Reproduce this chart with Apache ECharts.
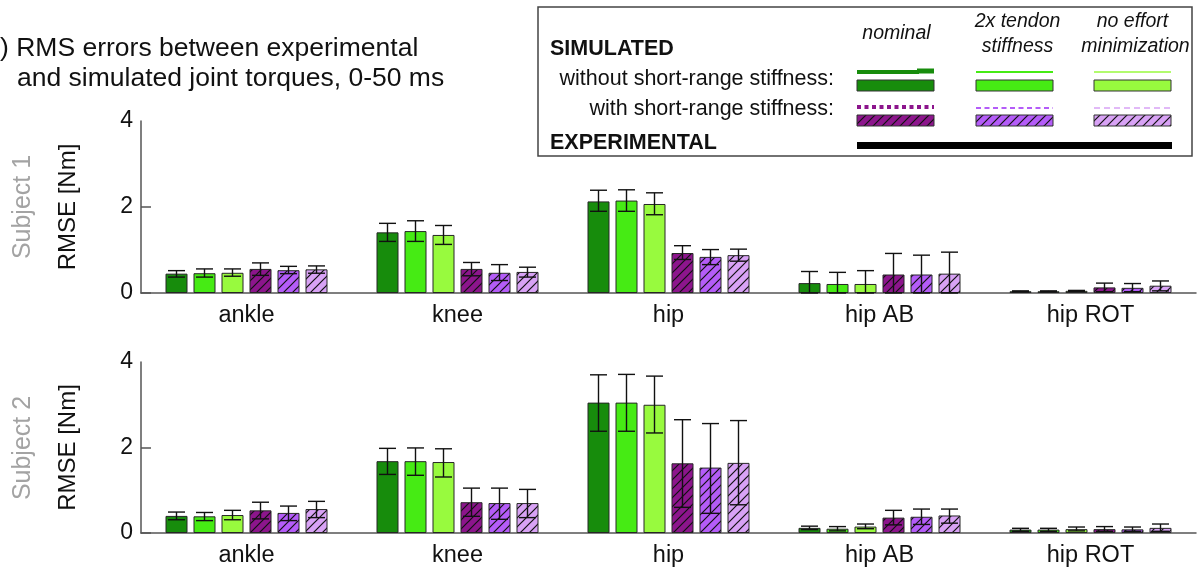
<!DOCTYPE html>
<html><head><meta charset="utf-8">
<script src="https://cdn.jsdelivr.net/npm/echarts@6/dist/echarts.min.js"></script>
<style>html,body{margin:0;padding:0;background:#fff}#c{width:1198px;height:568px}</style>
</head><body><div id="c"></div>
<script>
// ---------------- data ----------------
const categories = ['ankle', 'knee', 'hip', 'hip AB', 'hip ROT'];
const seriesNames = ['nominal', '2x tendon stiffness', 'no effort minimization',
  'nominal (SRS)', '2x tendon stiffness (SRS)', 'no effort minimization (SRS)'];
const subjectNames = ['Subject 1', 'Subject 2'];
const yAxisName = 'RMSE [Nm]';
const yTickValues = [0, 2];

// Subject 1: rows = series, cols = categories
const s1Mean = [
  [0.45, 1.41, 2.13, 0.23, 0.04],
  [0.46, 1.44, 2.15, 0.21, 0.04],
  [0.47, 1.35, 2.07, 0.21, 0.05],
  [0.56, 0.56, 0.93, 0.43, 0.13],
  [0.53, 0.47, 0.84, 0.43, 0.12],
  [0.55, 0.49, 0.88, 0.45, 0.17]
];
const s1High = [
  [0.52, 1.62, 2.39, 0.50, 0.05],
  [0.56, 1.68, 2.40, 0.48, 0.05],
  [0.56, 1.57, 2.33, 0.52, 0.06],
  [0.70, 0.71, 1.10, 0.92, 0.23],
  [0.62, 0.66, 1.01, 0.88, 0.22],
  [0.63, 0.60, 1.02, 0.95, 0.28]
];
const s1Low = [
  [0.37, 1.20, 1.90, 0.00, 0.03],
  [0.37, 1.20, 1.90, 0.00, 0.03],
  [0.39, 1.13, 1.82, 0.00, 0.04],
  [0.41, 0.40, 0.78, 0.00, 0.03],
  [0.45, 0.29, 0.66, 0.00, 0.03],
  [0.46, 0.37, 0.74, 0.00, 0.05]
];
// Subject 2
const s2Mean = [
  [0.40, 1.68, 3.05, 0.12, 0.08],
  [0.39, 1.68, 3.05, 0.10, 0.08],
  [0.42, 1.66, 3.00, 0.15, 0.09],
  [0.53, 0.72, 1.63, 0.36, 0.09],
  [0.47, 0.70, 1.53, 0.38, 0.085],
  [0.56, 0.70, 1.64, 0.41, 0.12]
];
const s2High = [
  [0.49, 1.98, 3.70, 0.16, 0.11],
  [0.48, 1.99, 3.71, 0.15, 0.11],
  [0.53, 1.97, 3.67, 0.21, 0.14],
  [0.72, 1.05, 2.65, 0.53, 0.15],
  [0.63, 1.05, 2.56, 0.56, 0.14],
  [0.74, 1.02, 2.63, 0.56, 0.21]
];
const s2Low = [
  [0.31, 1.37, 2.38, 0.08, 0.04],
  [0.29, 1.35, 2.38, 0.05, 0.04],
  [0.31, 1.31, 2.34, 0.10, 0.05],
  [0.33, 0.39, 0.60, 0.19, 0.04],
  [0.29, 0.32, 0.46, 0.20, 0.04],
  [0.36, 0.36, 0.66, 0.23, 0.04]
];
const yMin = 0, yMax = 4, yInterval = 2;

// ---------------- style ----------------
const FONT = '"Liberation Sans", Arial, Helvetica, sans-serif';
const colors = ['#178c0c', '#46eb14', '#98fa3e', '#8c158c', '#b45cf8', '#d8a2f5'];
const BAR_W = 22, BAR_GAP_PX = 6, PITCH = BAR_W + BAR_GAP_PX;

function hatch(bg, size) {
  const c = document.createElement('canvas');
  c.width = size; c.height = size;
  const g = c.getContext('2d');
  g.fillStyle = bg; g.fillRect(0, 0, size, size);
  g.strokeStyle = '#111'; g.lineWidth = 1.2;
  g.beginPath();
  g.moveTo(-1, size + 1); g.lineTo(size + 1, -1);
  g.moveTo(-2, 2); g.lineTo(2, -2);
  g.moveTo(size - 2, size + 2); g.lineTo(size + 2, size - 2);
  g.stroke();
  return c;
}
const fills = colors.map((c, k) => k < 3 ? c : { image: hatch(c, 9), repeat: 'repeat' });

const means = [s1Mean, s2Mean], lows = [s1Low, s2Low], highs = [s1High, s2High];
const grids = [
  { left: 141, right: 2, top: 121, height: 172 },
  { left: 141, right: 2, top: 362, height: 172 }
];

const xAxes = grids.map((g, i) => ({
  type: 'category', gridIndex: i, data: categories,
  axisLine: { lineStyle: { color: '#555', width: 1.5 } },
  axisTick: { show: false },
  axisLabel: { fontFamily: FONT, fontSize: 23.5, color: '#111', margin: 11 }
}));
const yAxes = grids.map((g, i) => ({
  type: 'value', gridIndex: i, min: yMin, max: yMax, interval: yInterval,
  name: yAxisName, nameLocation: 'middle', nameGap: 61,
  nameTextStyle: { fontFamily: FONT, fontSize: 24, color: '#111' },
  splitLine: { show: false },
  axisLine: { show: true, lineStyle: { color: '#555', width: 1.5 } },
  axisTick: { show: true, inside: true, length: 10, customValues: yTickValues,
    lineStyle: { color: '#555', width: 1.5 } },
  axisLabel: { fontFamily: FONT, fontSize: 23, color: '#111', margin: 8 }
}));

const series = [];
for (let g = 0; g < 2; g++) {
  for (let k = 0; k < 6; k++) {
    series.push({
      type: 'bar', name: seriesNames[k], xAxisIndex: g, yAxisIndex: g,
      data: means[g][k], barWidth: BAR_W, barGap: (BAR_GAP_PX / BAR_W * 100) + '%',
      itemStyle: { color: fills[k], borderColor: '#262626', borderWidth: 1 },
      emphasis: { disabled: true }, animation: false
    });
  }
  const errData = [];
  for (let k = 0; k < 6; k++)
    for (let c = 0; c < categories.length; c++)
      errData.push([c, k, lows[g][k][c], highs[g][k][c]]);
  series.push({
    type: 'custom', xAxisIndex: g, yAxisIndex: g, z: 10, animation: false,
    encode: { x: 0, y: [2, 3] },
    data: errData,
    renderItem: function (params, api) {
      const c = api.value(0), k = api.value(1);
      const pLo = api.coord([c, api.value(2)]);
      const pHi = api.coord([c, api.value(3)]);
      const x = pLo[0] + (k - 2.5) * PITCH;
      const cap = 8.5;
      const st = { stroke: '#111', lineWidth: 1.4 };
      return {
        type: 'group', children: [
          { type: 'line', shape: { x1: x, y1: pLo[1], x2: x, y2: pHi[1] }, style: st },
          { type: 'line', shape: { x1: x - cap, y1: pHi[1], x2: x + cap, y2: pHi[1] }, style: st },
          { type: 'line', shape: { x1: x - cap, y1: pLo[1], x2: x + cap, y2: pLo[1] }, style: st }
        ]
      };
    }
  });
}

// ---------------- text & legend graphics ----------------
function txt(text, x, y, size, opts) {
  opts = opts || {};
  return {
    type: 'text', x: x, y: y, rotation: opts.rotation || 0, z: 100,
    style: {
      text: text, fill: opts.color || '#111',
      font: (opts.italic ? 'italic ' : '') + (opts.bold ? 'bold ' : '') + size + 'px ' + FONT,
      textAlign: opts.align || 'left', textVerticalAlign: 'middle',
      align: opts.align || 'left', verticalAlign: 'middle'
    }
  };
}
function ln(x1, y1, x2, y2, color, w, dash) {
  return { type: 'line', z: 100, shape: { x1, y1, x2, y2 },
    style: { stroke: color, lineWidth: w, lineDash: dash || null } };
}
function rc(x, y, w, h, fill) {
  return { type: 'rect', z: 100, shape: { x, y, width: w, height: h },
    style: { fill: fill, stroke: '#333', lineWidth: 1 } };
}
const cols = [857, 976, 1094], colW = 77;
const graphics = [
  txt(') RMS errors between experimental', 0, 49, 26.5),
  txt('and simulated joint torques, 0-50 ms', 17, 79, 26.5),
  txt(subjectNames[0], 23, 207, 25, { rotation: Math.PI / 2, align: 'center', color: '#a3a3a3' }),
  txt(subjectNames[1], 23, 448, 25, { rotation: Math.PI / 2, align: 'center', color: '#a3a3a3' }),
  { type: 'rect', z: 90, shape: { x: 538, y: 7, width: 654, height: 149 },
    style: { fill: '#fff', stroke: '#444', lineWidth: 1.5 } },
  txt('SIMULATED', 550, 49, 21.5, { bold: true }),
  txt('EXPERIMENTAL', 550, 143, 21.5, { bold: true }),
  txt('nominal', cols[0] + colW / 2 + 1, 34, 19.5, { italic: true, align: 'center' }),
  txt('2x tendon', cols[1] + colW / 2 + 3, 22, 19.5, { italic: true, align: 'center' }),
  txt('stiffness', cols[1] + colW / 2 + 3, 47, 19.5, { italic: true, align: 'center' }),
  txt('no effort', cols[2] + colW / 2, 22, 19.5, { italic: true, align: 'center' }),
  txt('minimization', cols[2] + colW / 2 + 3, 47, 19.5, { italic: true, align: 'center' }),
  txt('without short-range stiffness:', 834, 79, 21.5, { align: 'right' }),
  txt('with short-range stiffness:', 834, 109, 21.5, { align: 'right' }),
  // row 1 lines
  ln(cols[0], 72, cols[0] + 62, 72, colors[0], 4),
  ln(cols[0] + 60, 71, cols[0] + colW, 71, colors[0], 5),
  ln(cols[1], 72, cols[1] + colW, 72, colors[1], 2.2),
  ln(cols[2], 72, cols[2] + colW, 72, colors[2], 1.5),
  rc(cols[0], 80, colW, 11, fills[0]),
  rc(cols[1], 80, colW, 11, fills[1]),
  rc(cols[2], 80, colW, 11, fills[2]),
  // row 2 lines
  ln(cols[0], 107, cols[0] + colW, 107, colors[3], 4, [4, 3.5]),
  ln(cols[1], 108, cols[1] + colW, 108, colors[4], 2.2, [5, 3.5]),
  ln(cols[2], 108, cols[2] + colW, 108, colors[5], 1.5, [6, 4]),
  rc(cols[0], 115, colW, 11, fills[3]),
  rc(cols[1], 115, colW, 11, fills[4]),
  rc(cols[2], 115, colW, 11, fills[5]),
  ln(857, 145.5, 1172, 145.5, '#000', 7)
];

const chart = echarts.init(document.getElementById('c'), null, { renderer: 'canvas' });
chart.setOption({
  animation: false,
  backgroundColor: '#fff',
  grid: grids,
  xAxis: xAxes,
  yAxis: yAxes,
  series: series,
  graphic: { elements: graphics }
});
</script>
</body></html>
